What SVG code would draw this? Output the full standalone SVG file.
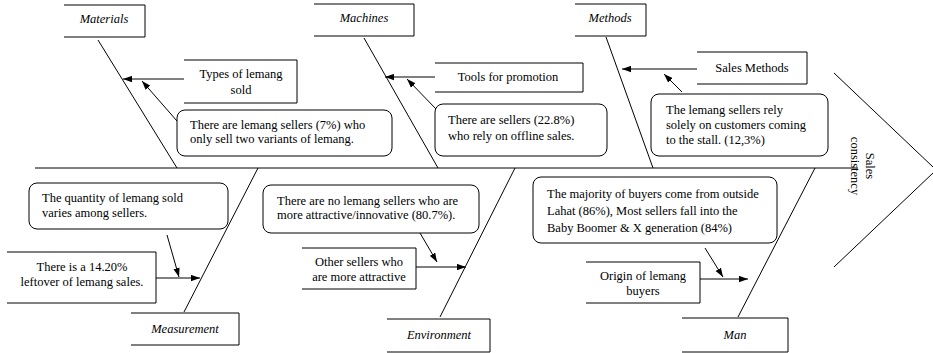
<svg xmlns="http://www.w3.org/2000/svg" width="933" height="353" viewBox="0 0 933 353">
<style>
.t { font-family: 'Liberation Serif', 'Times New Roman', Times, serif; font-size: 12.5px; fill: #000; }
.c { text-anchor: middle; }
.i { font-style: italic; }
.box { fill: none; stroke: #000; stroke-width: 1; }
.ln { fill: none; stroke: #000; stroke-width: 1; }
.ar { fill: none; stroke: #000; stroke-width: 1; marker-end: url(#ah); }
</style>
<defs>
<marker id="ah" viewBox="0 0 10 7" markerUnits="userSpaceOnUse" markerWidth="9" markerHeight="7" refX="10" refY="3.5" orient="auto">
<path d="M0,0 L10,3.5 L0,7 z" fill="#000"/>
</marker>
</defs>
<rect width="933" height="353" fill="#fff"/>

<g id="connectors">
<line class="ln" x1="35" y1="168" x2="858" y2="168"/>
<line class="ln" x1="834" y1="73" x2="933" y2="167"/>
<line class="ln" x1="933" y1="173" x2="834" y2="267"/>
<line class="ln" x1="98" y1="40" x2="177" y2="168"/>
<line class="ln" x1="364" y1="38" x2="438" y2="168"/>
<line class="ln" x1="606" y1="37" x2="653" y2="168"/>
<line class="ln" x1="258" y1="168" x2="184" y2="312"/>
<line class="ln" x1="515" y1="168" x2="440" y2="317"/>
<line class="ln" x1="815" y1="168" x2="738" y2="317"/>
<path class="ar" d="M184,79 L123,79"/>
<path class="ar" d="M177,121 L142,81"/>
<path class="ar" d="M435,77 L385,77"/>
<path class="ar" d="M436,109 L407,79"/>
<path class="ar" d="M697,69 L622,69"/>
<path class="ar" d="M682,92 L664,74"/>
<path class="ar" d="M156,278 L200,278"/>
<path class="ar" d="M167,235 L179,277"/>
<path class="ar" d="M416,267 L466,267"/>
<path class="ar" d="M420,233 L437,262"/>
<path class="ar" d="M700,279 L748,279"/>
<path class="ar" d="M705,248 L723,277"/>
</g>

<g id="materials">
<path class="box" d="M64,5 H145 V37 H64"/>
<text class="t c i" x="104" y="23">Materials</text>
</g>
<g id="machines">
<path class="box" d="M314,4 H414 V36 H314"/>
<text class="t c i" x="364" y="22">Machines</text>
</g>
<g id="methods">
<path class="box" d="M575,4 H646 V36 H575"/>
<text class="t c i" x="610" y="22">Methods</text>
</g>
<g id="types-of-lemang">
<path class="box" d="M184,60 H297 V103 H184"/>
<text class="t c" x="241" y="78">Types of lemang</text>
<text class="t c" x="241" y="94">sold</text>
</g>
<g id="tools-for-promotion">
<path class="box" d="M435,63 H583 V92 H435"/>
<text class="t c" x="508" y="81">Tools for promotion</text>
</g>
<g id="sales-methods">
<path class="box" d="M697,52 H807 V84 H697"/>
<text class="t c" x="752" y="72">Sales Methods</text>
</g>
<g id="two-variants">
<rect class="box" x="177" y="110" width="215" height="46" rx="8"/>
<text class="t" x="190" y="129">There are lemang sellers (7%) who</text>
<text class="t" x="190" y="143">only sell two variants of lemang.</text>
</g>
<g id="offline-sales">
<rect class="box" x="435" y="104" width="172" height="52" rx="8"/>
<text class="t" x="448" y="124">There are sellers (22.8%)</text>
<text class="t" x="448" y="140">who rely on offline sales.</text>
</g>
<g id="customers-coming">
<rect class="box" x="651" y="94" width="177" height="62" rx="8"/>
<text class="t" x="666" y="114">The lemang sellers rely</text>
<text class="t" x="666" y="129">solely on customers coming</text>
<text class="t" x="666" y="144">to the stall. (12,3%)</text>
</g>
<g id="quantity-varies">
<rect class="box" x="29" y="183" width="199" height="46" rx="8"/>
<text class="t" x="42" y="202">The quantity of lemang sold</text>
<text class="t" x="42" y="217">varies among sellers.</text>
</g>
<g id="leftover">
<path class="box" d="M7,252 H156 V303 H7"/>
<text class="t c" x="82" y="271">There is a 14.20%</text>
<text class="t c" x="82" y="286">leftover of lemang sales.</text>
</g>
<g id="measurement">
<path class="box" d="M131,313 H239 V345 H131"/>
<text class="t c i" x="185" y="333">Measurement</text>
</g>
<g id="no-attractive">
<rect class="box" x="263" y="185" width="216" height="48" rx="8"/>
<text class="t" x="277" y="205">There are no lemang sellers who are</text>
<text class="t" x="277" y="219">more attractive/innovative (80.7%).</text>
</g>
<g id="other-sellers">
<path class="box" d="M302,248 H416 V289 H302"/>
<text class="t c" x="359" y="266">Other sellers who</text>
<text class="t c" x="359" y="281">are more attractive</text>
</g>
<g id="environment">
<path class="box" d="M387,319 H490 V352 H387"/>
<text class="t c i" x="439" y="339">Environment</text>
</g>
<g id="majority-buyers">
<rect class="box" x="533" y="177" width="244" height="66" rx="8"/>
<text class="t" x="547" y="198">The majority of buyers come from outside</text>
<text class="t" x="547" y="215">Lahat (86%), Most sellers fall into the</text>
<text class="t" x="547" y="232">Baby Boomer &amp; X generation (84%)</text>
</g>
<g id="origin-buyers">
<path class="box" d="M586,262 H700 V303 H586"/>
<text class="t c" x="643" y="280">Origin of lemang</text>
<text class="t c" x="643" y="295">buyers</text>
</g>
<g id="man">
<path class="box" d="M682,318 H788 V352 H682"/>
<text class="t c i" x="735" y="339">Man</text>
</g>
<g id="sales-consistency">
<g transform="translate(863,166) rotate(90)">
<text class="t c" x="0" y="-3">Sales</text>
<text class="t c" x="0" y="12">consistency</text>
</g>
</g>
</svg>
